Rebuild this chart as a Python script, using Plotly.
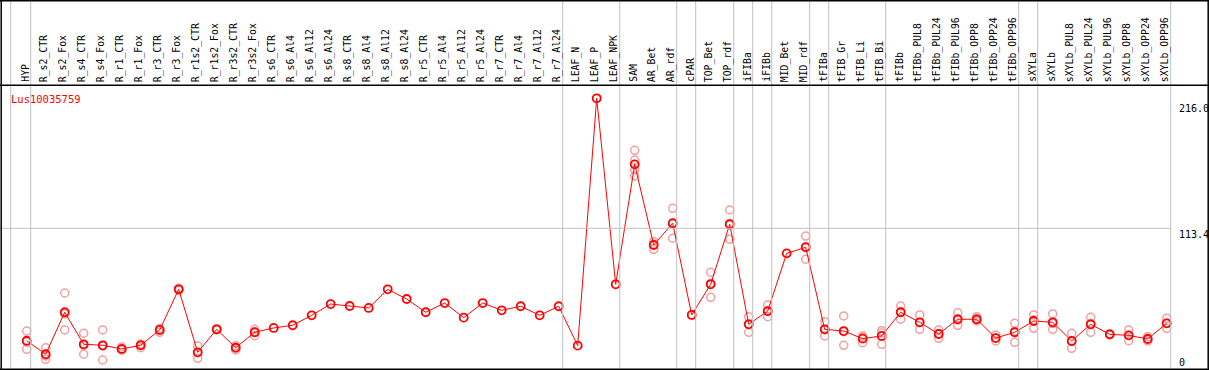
import plotly.graph_objects as go

title = "Lus10035759"

labels = ["HYP",
          "R_s2_CTR", "R_s2_Fox", "R_s4_CTR", "R_s4_Fox", "R_r1_CTR", "R_r1_Fox",
          "R_r3_CTR", "R_r3_Fox", "R_r1s2_CTR", "R_r1s2_Fox", "R_r3s2_CTR", "R_r3s2_Fox",
          "R_s6_CTR", "R_s6_Al4", "R_s6_Al12", "R_s6_Al24",
          "R_s8_CTR", "R_s8_Al4", "R_s8_Al12", "R_s8_Al24",
          "R_r5_CTR", "R_r5_Al4", "R_r5_Al12", "R_r5_Al24",
          "R_r7_CTR", "R_r7_Al4", "R_r7_Al12", "R_r7_Al24",
          "LEAF_N", "LEAF_P", "LEAF_NPK",
          "SAM", "AR_Bet", "AR_rdf",
          "cPAR",
          "TOP_Bet", "TOP_rdf",
          "iFIBa",
          "iFIBb",
          "MID_Bet", "MID_rdf",
          "tFIBa",
          "tFIB_Gr", "tFIB_Li", "tFIB_Bi",
          "tFIBb", "tFIBb_PUL8", "tFIBb_PUL24", "tFIBb_PUL96", "tFIBb_OPP8", "tFIBb_OPP24", "tFIBb_OPP96",
          "sXYLa",
          "sXYLb", "sXYLb_PUL8", "sXYLb_PUL24", "sXYLb_PUL96", "sXYLb_OPP8", "sXYLb_OPP24", "sXYLb_OPP96"]

# index of the last category in each separated group
group_ends = [0, 28, 31, 34, 35, 37, 38, 39, 41, 42, 45, 52, 53, 60]

means = [21.8,
         10.8, 45.0, 18.9, 18.1, 15.1, 18.1,
         30.6, 63.7, 12.4, 31.1, 16.1, 28.7,
         32.2, 34.4, 42.5, 51.7,
         50.1, 48.5, 63.7, 55.8,
         45.0, 52.5, 40.6, 52.5,
         46.6, 49.9, 42.5, 49.9,
         17.8, 219.3, 67.8,
         165.5, 99.8, 117.5,
         42.8,
         67.8, 116.7,
         35.2,
         46.0,
         93.0, 97.9,
         31.1,
         29.7, 23.5, 25.7,
         45.0, 36.8, 27.3, 39.3, 39.3, 24.0, 28.7,
         37.9,
         36.8, 21.6, 35.2, 27.0, 26.2, 23.2, 36.0]

replicates = [[29.7, 14.8, 20.8],
              [16.1, 6.7, 9.4], [60.7, 30.6, 43.6], [27.9, 10.8, 18.1], [30.6, 6.1, 17.5],
              [16.7, 14.3, 14.3], [19.1, 16.1, 18.3],
              [31.8, 28.7, 30.6], [64.5, 63.1, 63.5], [17.5, 7.5, 12.1], [31.4, 30.6, 31.4],
              [17.8, 14.3, 16.3], [31.1, 25.9, 28.9],
              [], [], [], [],
              [], [], [], [],
              [], [], [], [],
              [], [], [], [],
              [], [], [],
              [176.9, 169.0, 160.9, 156.0], [102.5, 96.3, 100.6], [129.7, 105.3, 117.5],
              [42.8],
              [77.6, 57.2, 68.6], [128.3, 104.4, 117.2],
              [41.4, 28.7, 35.4],
              [50.9, 41.4, 45.8],
              [], [107.1, 88.2, 98.5],
              [37.3, 25.7, 30.6],
              [42.0, 18.1, 29.2], [25.7, 20.2, 24.5], [30.0, 18.9, 28.1],
              [50.1, 39.3, 45.5], [42.8, 31.1, 36.6], [30.6, 23.8, 27.5], [44.6, 34.4, 38.7],
              [41.4, 38.7, 37.9], [26.5, 21.6, 24.0], [36.0, 20.5, 29.5],
              [42.8, 31.9, 38.9],
              [43.6, 31.1, 35.8], [27.9, 15.6, 21.3], [40.9, 28.7, 36.0], [26.5, 27.5, 27.0],
              [30.6, 21.8, 26.3], [25.1, 23.2, 21.6], [40.1, 31.9, 36.0]]

y_ticks = [0, 113.4, 216.0]
y_tick_text = ["0", "113.4", "216.0"]

W, H = 1209, 370
X0_PX, X_STEP = 26.7, 19.0          # pixel of first category, pixels per category
Y0_PX, Y_SCALE = 367.5, 1.2275       # pixel of value 0, pixels per unit

x_range = [(0 - X0_PX) / X_STEP, (W - X0_PX) / X_STEP]
y_range = [(Y0_PX - H) / Y_SCALE, Y0_PX / Y_SCALE]

def px_to_y(py):
    return (Y0_PX - py) / Y_SCALE

def px_to_x(px):
    return (px - X0_PX) / X_STEP

xs = list(range(len(labels)))

rx, ry = [], []
for i, reps in enumerate(replicates):
    for v in reps:
        rx.append(i)
        ry.append(v)

fig = go.Figure()
fig.add_trace(go.Scatter(x=rx, y=ry, mode="markers",
                         marker=dict(symbol="circle-open", size=8, color="#f0a0a0",
                                     line=dict(width=1.5, color="#f0a0a0")),
                         showlegend=False, hoverinfo="skip"))
fig.add_trace(go.Scatter(x=xs, y=means, mode="lines+markers",
                         line=dict(color="#ff0000", width=1),
                         marker=dict(symbol="circle-open", size=8, color="#ff0000",
                                     line=dict(width=1.8, color="#ff0000")),
                         showlegend=False))

sep_off = 4.0 / X_STEP
shapes = []
sep_positions = [-1 + sep_off - 1.0 / X_STEP] + [e + sep_off for e in group_ends]
for sx in sep_positions:
    shapes.append(dict(type="line", xref="x", yref="y", x0=sx, x1=sx,
                       y0=px_to_y(0), y1=px_to_y(369), line=dict(color="#c0c0c0", width=1)))
# horizontal gridline at middle tick
shapes.append(dict(type="line", xref="x", yref="y", x0=x_range[0], x1=sep_positions[-1],
                   y0=y_ticks[1], y1=y_ticks[1], line=dict(color="#c0c0c0", width=1)))
# black frame and header separator
blk = dict(color="#000000", width=1.5)
shapes.append(dict(type="line", xref="x", yref="y", x0=x_range[0], x1=x_range[1],
                   y0=px_to_y(0.8), y1=px_to_y(0.8), line=blk))
shapes.append(dict(type="line", xref="x", yref="y", x0=x_range[0], x1=x_range[1],
                   y0=px_to_y(85.2), y1=px_to_y(85.2), line=blk))
shapes.append(dict(type="line", xref="x", yref="y", x0=x_range[0], x1=x_range[1],
                   y0=px_to_y(369.2), y1=px_to_y(369.2), line=blk))
shapes.append(dict(type="line", xref="x", yref="y", x0=px_to_x(1.2), x1=px_to_x(1.2),
                   y0=px_to_y(0), y1=px_to_y(370), line=blk))
shapes.append(dict(type="line", xref="x", yref="y", x0=px_to_x(1208.2), x1=px_to_x(1208.2),
                   y0=px_to_y(0), y1=px_to_y(370), line=blk))

mono = "DejaVu Sans Mono"
annotations = []
for i, lab in enumerate(labels):
    annotations.append(dict(x=i, y=px_to_y(84), xref="x", yref="y", text=lab,
                            showarrow=False, textangle=-90, xanchor="center", yanchor="bottom",
                            xshift=-2, font=dict(family=mono, size=9.8, color="#000000")))
for v, t in zip(y_ticks, y_tick_text):
    yy = v if v > 0 else px_to_y(356)
    annotations.append(dict(x=px_to_x(1177), y=yy, xref="x", yref="y", text=t,
                            showarrow=False, xanchor="left", yanchor="top", yshift=1,
                            font=dict(family=mono, size=10, color="#000000")))
annotations.append(dict(x=px_to_x(9), y=px_to_y(91), xref="x", yref="y", text=title,
                        showarrow=False, xanchor="left", yanchor="top",
                        font=dict(family=mono, size=10.5, color="#ff0000")))

fig.update_layout(
    width=W, height=H,
    margin=dict(l=0, r=0, t=0, b=0, pad=0),
    paper_bgcolor="#ffffff", plot_bgcolor="#ffffff",
    xaxis=dict(range=x_range, visible=False, fixedrange=True),
    yaxis=dict(range=y_range, visible=False, fixedrange=True),
    shapes=shapes, annotations=annotations,
)

fig.write_html("out.html", config={"displayModeBar": False},
               post_script="document.body.style.margin='0';")
